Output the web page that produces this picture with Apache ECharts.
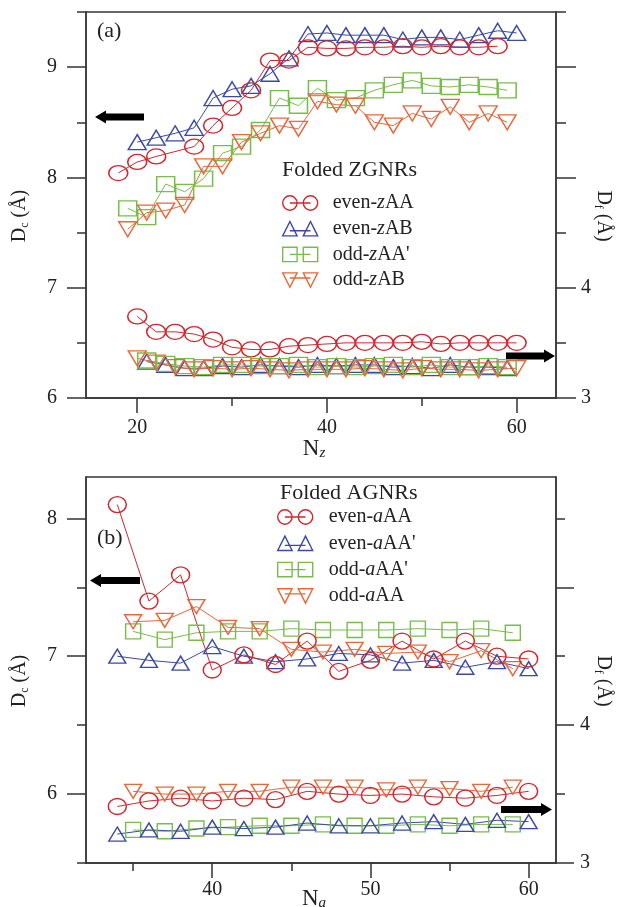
<!DOCTYPE html>
<html>
<head>
<meta charset="utf-8">
<script src="https://cdn.jsdelivr.net/npm/echarts@6/dist/echarts.min.js"></script>
<style>
html, body { margin: 0; padding: 0; background: #fff; }
#chart { width: 618px; height: 907px; }
</style>
</head>
<body>
<div id="chart"></div>
<script>
// (a) folded ZGNRs, Dc on the left axis
let nzEvenZAA = [18, 20, 22, 26, 28, 30, 32, 34, 36, 38, 40, 42, 44, 46, 48, 50, 52, 54, 56, 58]
let dcEvenZAA = [8.04, 8.14, 8.19, 8.28, 8.47, 8.63, 8.79, 9.06, 9.06, 9.18, 9.17, 9.17, 9.18, 9.18, 9.19, 9.18, 9.19, 9.18, 9.18, 9.19]
let nzEven = [20, 22, 24, 26, 28, 30, 32, 34, 36, 38, 40, 42, 44, 46, 48, 50, 52, 54, 56, 58, 60]
let dcEvenZAB = [8.32, 8.36, 8.40, 8.45, 8.72, 8.80, 8.83, 8.94, 9.08, 9.30, 9.31, 9.29, 9.29, 9.29, 9.25, 9.27, 9.27, 9.25, 9.29, 9.33, 9.31]
let nzOdd = [19, 21, 23, 25, 27, 29, 31, 33, 35, 37, 39, 41, 43, 45, 47, 49, 51, 53, 55, 57, 59]
let dcOddZAAp = [7.72, 7.64, 7.94, 7.87, 7.99, 8.22, 8.28, 8.43, 8.72, 8.65, 8.81, 8.70, 8.72, 8.79, 8.84, 8.88, 8.83, 8.82, 8.84, 8.82, 8.79]
let dcOddZAB = [7.53, 7.68, 7.70, 7.75, 8.10, 8.10, 8.32, 8.40, 8.47, 8.44, 8.69, 8.66, 8.65, 8.50, 8.47, 8.58, 8.53, 8.64, 8.50, 8.58, 8.50]
// (a) Df on the right axis
let nzOddDf = [21, 23, 25, 27, 29, 31, 33, 35, 37, 39, 41, 43, 45, 47, 49, 51, 53, 55, 57, 59]
let dfEvenZAA = [3.74, 3.60, 3.60, 3.58, 3.53, 3.46, 3.44, 3.44, 3.47, 3.48, 3.49, 3.50, 3.50, 3.50, 3.50, 3.51, 3.49, 3.50, 3.50, 3.50, 3.50]
let dfEvenZAB = [3.33, 3.30, 3.27, 3.27, 3.29, 3.28, 3.30, 3.29, 3.28, 3.30, 3.29, 3.30, 3.30, 3.28, 3.29, 3.27, 3.30, 3.28, 3.28, 3.27]
let dfOddZAAp = [3.34, 3.31, 3.29, 3.28, 3.30, 3.30, 3.29, 3.29, 3.30, 3.28, 3.29, 3.28, 3.29, 3.30, 3.28, 3.30, 3.28, 3.28, 3.29, 3.28]
let dfOddZAB = [3.36, 3.32, 3.28, 3.26, 3.27, 3.26, 3.27, 3.26, 3.25, 3.26, 3.26, 3.26, 3.27, 3.26, 3.25, 3.27, 3.26, 3.26, 3.25, 3.26, 3.27]

// (b) folded AGNRs
let naEven = [34, 36, 38, 40, 42, 44, 46, 48, 50, 52, 54, 56, 58, 60]
let naOdd = [35, 37, 39, 41, 43, 45, 47, 49, 51, 53, 55, 57, 59]
let dcEvenAAA = [8.10, 7.40, 7.59, 6.90, 7.01, 6.94, 7.11, 6.89, 6.97, 7.11, 6.98, 7.11, 7.00, 6.98]
let dcEvenAAAp = [7.00, 6.97, 6.95, 7.07, 7.00, 6.96, 6.98, 7.02, 7.01, 6.95, 6.97, 6.92, 6.96, 6.91]
let dcOddAAAp = [7.18, 7.12, 7.17, 7.18, 7.18, 7.20, 7.19, 7.19, 7.19, 7.20, 7.19, 7.20, 7.17]
let dcOddAAA = [7.25, 7.26, 7.36, 7.21, 7.20, 7.05, 7.03, 7.05, 7.02, 7.03, 6.96, 7.04, 6.91]
let dfEvenAAA = [3.41, 3.45, 3.47, 3.45, 3.47, 3.46, 3.52, 3.50, 3.49, 3.50, 3.48, 3.47, 3.49, 3.52]
let dfEvenAAAp = [3.21, 3.24, 3.23, 3.26, 3.25, 3.26, 3.29, 3.27, 3.27, 3.29, 3.30, 3.28, 3.31, 3.30]
let dfOddAAAp = [3.24, 3.23, 3.25, 3.26, 3.27, 3.27, 3.28, 3.27, 3.27, 3.28, 3.27, 3.28, 3.28]
let dfOddAAA = [3.52, 3.50, 3.50, 3.52, 3.52, 3.55, 3.55, 3.55, 3.53, 3.55, 3.54, 3.52, 3.55]

// ticks and labels
let xMajorA = [20, 40, 60]
let xMinorA = [30, 50]
let yLeftMajorA = [6, 7, 8, 9]
let yLeftMinorA = [6.5, 7.5, 8.5, 9.5]
let yRightMajorA = [3, 4, 5, 6]
let yRightMinorA = [3.5, 4.5, 5.5, 6.5]
let yRightLabelA = [3, 4]
let xMajorB = [40, 50, 60]
let xMinorB = [35, 45, 55]
let yLeftMajorB = [6, 7, 8]
let yLeftMinorB = [5.5, 6.5, 7.5]
let yRightMajorB = [3, 4, 5]
let yRightMinorB = [3.5, 4.5, 5.5]
let yRightLabelB = [3, 4]

let FONT = 'Liberation Serif'
let INK = '#222'
let AX = '#333'
let RED = '#d3262d'
let BLUE = '#3b49a6'
let GREEN = '#78bd4a'
let ORANGE = '#e8683a'

let ICON_CIRCLE = 'path://M8,8L28,8M1,8A7,7,0,1,0,15,8A7,7,0,1,0,1,8ZM21,8A7,7,0,1,0,35,8A7,7,0,1,0,21,8Z'
let ICON_UP = 'path://M8,10L28,10M1,15L8,1L15,15ZM21,15L28,1L35,15Z'
let ICON_SQUARE = 'path://M8,8L28,8M1,1L15,1L15,15L1,15ZM21,1L35,1L35,15L21,15Z'
let ICON_DOWN = 'path://M8,6L28,6M1,1L15,1L8,15ZM21,1L35,1L28,15Z'

function pairs (xs, ys) {
  return xs.map((x, i) => [x, ys[i]])
}

function txt (size, extra) {
  return Object.assign({ fontFamily: FONT, fontSize: size, color: INK }, extra || {})
}

function xAxes (grid, min, max, majors, minors, name, nameGap, labelMargin) {
  return [
    {
      type: 'value', gridIndex: grid, min: min, max: max, position: 'bottom',
      name: name, nameLocation: 'middle', nameGap: nameGap, nameMoveOverlap: false,
      nameTextStyle: txt(23, { padding: [0, 14, 0, 0], rich: { n: txt(23, { lineHeight: 24 }), s: txt(15, { fontStyle: 'italic', verticalAlign: 'bottom', lineHeight: 14 }) } }),
      axisLine: { onZero: false, lineStyle: { color: AX, width: 1.5 } },
      axisTick: { customValues: majors, length: 15, lineStyle: { color: AX, width: 1.5 } },
      axisLabel: { customValues: majors, margin: labelMargin, fontFamily: FONT, fontSize: 20, color: INK },
      splitLine: { show: false }
    },
    {
      type: 'value', gridIndex: grid, min: min, max: max, position: 'bottom',
      axisLine: { show: false },
      axisTick: { customValues: minors, length: 8, lineStyle: { color: AX, width: 1.5 } },
      axisLabel: { show: false },
      splitLine: { show: false }
    }
  ]
}

function yAxes (grid, side, min, max, majors, minors, labels, name, nameGap, margin, majorLen, minorLen) {
  let left = side === 'left'
  return [
    {
      type: 'value', gridIndex: grid, min: min, max: max, position: side,
      name: name, nameLocation: 'middle', nameGap: nameGap, nameRotate: left ? 90 : -90, nameMoveOverlap: false,
      nameTextStyle: txt(20, { padding: left ? [0, 22, 0, 0] : [0, 0, 0, 22], rich: { a: txt(20, { lineHeight: 22 }), b: txt(12, { verticalAlign: 'bottom', lineHeight: 12 }) } }),
      axisLine: { onZero: false, lineStyle: { color: AX, width: 1.5 } },
      axisTick: { customValues: majors, length: majorLen, lineStyle: { color: AX, width: 1.5 } },
      axisLabel: { customValues: labels, margin: margin, fontFamily: FONT, fontSize: 20, color: INK },
      splitLine: { show: false }
    },
    {
      type: 'value', gridIndex: grid, min: min, max: max, position: side,
      axisLine: { show: false },
      axisTick: { customValues: minors, length: minorLen, lineStyle: { color: AX, width: 1.5 } },
      axisLabel: { show: false },
      splitLine: { show: false }
    }
  ]
}

function line (name, xi, yi, xs, ys, color, symbol, size, rotate) {
  return {
    name: name, type: 'line', xAxisIndex: xi, yAxisIndex: yi,
    data: pairs(xs, ys),
    symbol: symbol, symbolSize: size, symbolRotate: rotate || 0, showAllSymbol: true,
    lineStyle: { color: color, width: 1 },
    itemStyle: { color: 'transparent', borderColor: color, borderWidth: 1.4 },
    emphasis: { disabled: true }
  }
}

function legendItem (name, icon, color) {
  return { name: name, icon: icon, itemStyle: { color: 'transparent', borderColor: color, borderWidth: 1.4 } }
}

function legendText (name) {
  let m = name.match(/^(\w+-)(\w)(.*)$/)
  return '{p|' + m[1] + '}{i|' + m[2] + '}{r|' + m[3] + '}'
}

function legendRich (pad) {
  return {
    p: txt(20, { lineHeight: 22, padding: [0, 0, 0, pad] }),
    i: txt(20, { lineHeight: 22, fontStyle: 'italic' }),
    r: txt(20, { lineHeight: 22 })
  }
}

function arrow (tipX, tailX, y) {
  let d = tailX > tipX ? 1 : -1
  let hx = tipX + d * 11
  return {
    type: 'polygon',
    shape: { points: [[tipX, y], [hx, y - 6.5], [hx, y - 3.5], [tailX, y - 3.5], [tailX, y + 3.5], [hx, y + 3.5], [hx, y + 6.5]] },
    style: { fill: '#000' }
  }
}

let CIRC_A = [19, 15]
let TRI_A = [18, 15]
let SQ_A = [18, 15]
let CIRC_B = [18, 16]
let TRI_B = [17, 14]
let SQ_B = [15, 15]

let myChart = echarts.init(document.getElementById('chart'), null, { renderer: 'canvas' })
let option = {
  animation: false,
  backgroundColor: '#fff',
  title: [
    { text: '(a)', left: 97, top: 20, padding: 0, textStyle: txt(22, { fontWeight: 'normal' }) },
    { text: 'Folded ZGNRs', left: 282, top: 159, padding: 0, textStyle: txt(22, { fontWeight: 'normal' }) },
    { text: '(b)', left: 97, top: 527, padding: 0, textStyle: txt(22, { fontWeight: 'normal' }) },
    { text: 'Folded AGNRs', left: 280, top: 482, padding: 0, textStyle: txt(22, { fontWeight: 'normal' }) }
  ],
  legend: [
    {
      left: 282, top: 193, orient: 'vertical', padding: 0, itemWidth: 35, itemHeight: 15, itemGap: 5.7,
      selectedMode: false, formatter: legendText, textStyle: { rich: legendRich(10) },
      data: [
        legendItem('even-zAA', ICON_CIRCLE, RED),
        legendItem('even-zAB', ICON_UP, BLUE),
        legendItem("odd-zAA'", ICON_SQUARE, GREEN),
        legendItem('odd-zAB', ICON_DOWN, ORANGE)
      ]
    },
    {
      left: 277, top: 507, orient: 'vertical', padding: 0, itemWidth: 35, itemHeight: 15, itemGap: 6.3,
      selectedMode: false, formatter: legendText, textStyle: { rich: legendRich(11) },
      data: [
        legendItem('even-aAA', ICON_CIRCLE, RED),
        legendItem("even-aAA'", ICON_UP, BLUE),
        legendItem("odd-aAA'", ICON_SQUARE, GREEN),
        legendItem('odd-aAA', ICON_DOWN, ORANGE)
      ]
    }
  ],
  grid: [
    { left: 86, top: 12, width: 470, height: 386, show: true, borderColor: AX, borderWidth: 1.3, containLabel: false, outerBoundsMode: 'none' },
    { left: 86, top: 477, width: 470, height: 386, show: true, borderColor: AX, borderWidth: 1.3, containLabel: false, outerBoundsMode: 'none' }
  ],
  xAxis: [].concat(
    xAxes(0, 14.6, 64.15, xMajorA, xMinorA, '{n|N}{s|z}', 39, 20),
    xAxes(1, 32.02, 61.73, xMajorB, xMinorB, '{n|N}{s|a}', 24, 17)
  ),
  yAxis: [].concat(
    yAxes(0, 'left', 6, 9.5, yLeftMajorA, yLeftMinorA, yLeftMajorA, '{a|D}{b|c}{a| (Å)}', 55, 29, 19, 9),
    yAxes(0, 'right', 3, 6.5, yRightMajorA, yRightMinorA, yRightLabelA, '{a|D}{b|f}{a| (Å)}', 36, 25, 20, 10),
    yAxes(1, 'left', 5.5, 8.3, yLeftMajorB, yLeftMinorB, yLeftMajorB, '{a|D}{b|c}{a| (Å)}', 55, 29, 19, 9),
    yAxes(1, 'right', 3, 5.8, yRightMajorB, yRightMinorB, yRightLabelB, '{a|D}{b|f}{a| (Å)}', 36, 24, 18, 9)
  ),
  series: [
    line('even-zAB', 0, 0, nzEven, dcEvenZAB, BLUE, 'triangle', TRI_A),
    line('even-zAA', 0, 0, nzEvenZAA, dcEvenZAA, RED, 'circle', CIRC_A),
    line("odd-zAA'", 0, 0, nzOdd, dcOddZAAp, GREEN, 'rect', SQ_A),
    line('odd-zAB', 0, 0, nzOdd, dcOddZAB, ORANGE, 'triangle', TRI_A, 180),
    line('even-zAA', 0, 2, nzEven, dfEvenZAA, RED, 'circle', CIRC_A),
    line('even-zAB', 0, 2, nzOddDf, dfEvenZAB, BLUE, 'triangle', TRI_A),
    line("odd-zAA'", 0, 2, nzOddDf, dfOddZAAp, GREEN, 'rect', SQ_A),
    line('odd-zAB', 0, 2, nzEven, dfOddZAB, ORANGE, 'triangle', TRI_A, 180),

    line("odd-aAA'", 2, 4, naOdd, dcOddAAAp, GREEN, 'rect', SQ_B),
    line('odd-aAA', 2, 4, naOdd, dcOddAAA, ORANGE, 'triangle', TRI_B, 180),
    line("even-aAA'", 2, 4, naEven, dcEvenAAAp, BLUE, 'triangle', TRI_B),
    line('even-aAA', 2, 4, naEven, dcEvenAAA, RED, 'circle', CIRC_B),
    line('odd-aAA', 2, 6, naOdd, dfOddAAA, ORANGE, 'triangle', TRI_B, 180),
    line('even-aAA', 2, 6, naEven, dfEvenAAA, RED, 'circle', CIRC_B),
    line("odd-aAA'", 2, 6, naOdd, dfOddAAAp, GREEN, 'rect', SQ_B),
    line("even-aAA'", 2, 6, naEven, dfEvenAAAp, BLUE, 'triangle', TRI_B)
  ],
  graphic: [
    arrow(95, 144, 117),
    arrow(555, 506, 356),
    arrow(90, 140, 580.5),
    arrow(552, 501, 809.5)
  ]
}
myChart.setOption(option, true)
</script>
</body>
</html>
